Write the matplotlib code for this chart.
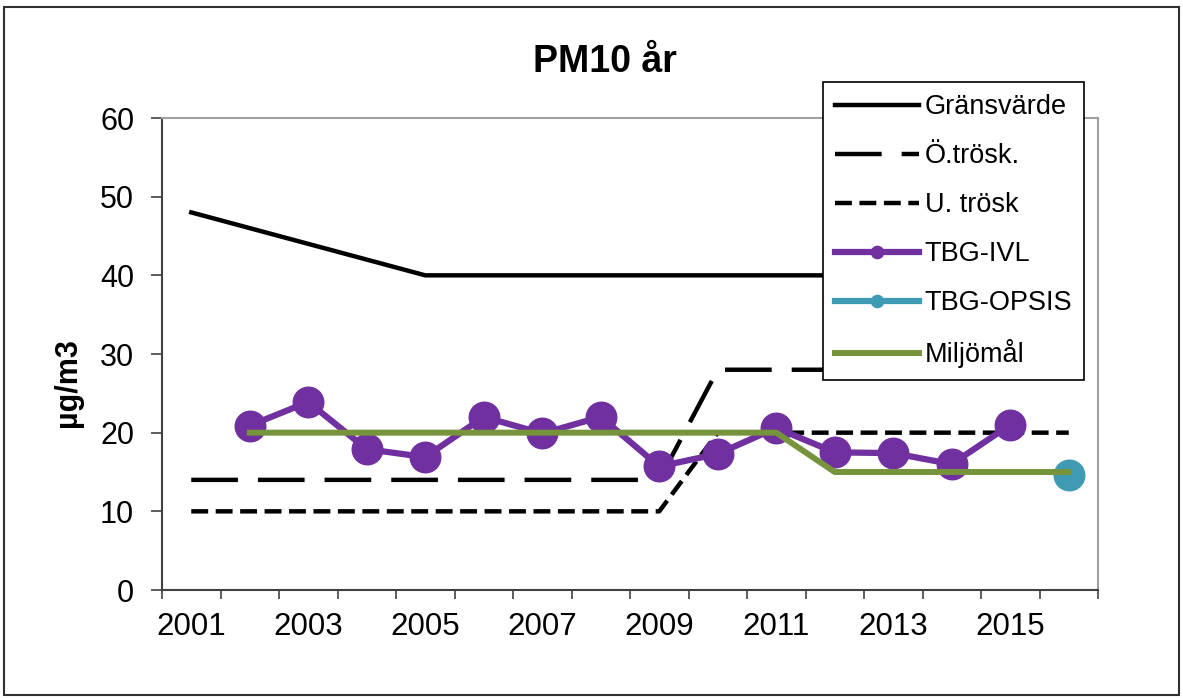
import numpy as np
import matplotlib
matplotlib.use("Agg")
import matplotlib.pyplot as plt
from matplotlib.patches import Rectangle

plt.rcParams['font.family'] = ['Liberation Sans', 'DejaVu Sans']

# data
years = list(range(2001, 2017))
grans = [48, 46, 44, 42, 40, 40, 40, 40, 40, 40, 40, 40, 40, 40, 40, 40]
o_trosk = [14, 14, 14, 14, 14, 14, 14, 14, 14, 28, 28, 28, 28, 28, 28, 28]
u_trosk = [10, 10, 10, 10, 10, 10, 10, 10, 10, 20, 20, 20, 20, 20, 20, 20]
ivl_years = list(range(2002, 2016))
ivl = [20.9, 23.9, 17.9, 16.9, 22.0, 19.9, 22.0, 15.7, 17.3, 20.6, 17.5, 17.4, 16.0, 21.0]
opsis_years = [2016]
opsis = [14.6]
miljo_years = list(range(2002, 2017))
miljo = [20, 20, 20, 20, 20, 20, 20, 20, 20, 20, 15, 15, 15, 15, 15]
tick_labels = [str(y) for y in range(2001, 2016, 2)]

W, H = 1183, 698
fig = plt.figure(figsize=(W / 100, H / 100), dpi=100)
ax = fig.add_axes([162 / W, 1 - 590 / H, (1098 - 162) / W, (590 - 118) / H])

def pos(yrs):
    return np.array(yrs) - 2001

ax.plot(pos(years), grans, color='black', lw=3.2, label='Gränsvärde')
ax.plot(pos(years), o_trosk, color='black', lw=3.2, dashes=(10.5, 4.5), label='Ö.trösk.')
ax.plot(pos(years), u_trosk, color='black', lw=3.2, dashes=(3.8, 1.7), label='U. trösk')
ax.plot(pos(ivl_years), ivl, color='#7030A0', lw=4.5, marker='o', ms=22, label='TBG-IVL')
ax.plot(pos(opsis_years), opsis, color='#3F9BB3', lw=4.5, marker='o', ms=22, label='TBG-OPSIS')
ax.plot(pos(miljo_years), miljo, color='#77933C', lw=4.3, label='Miljömål')

ax.set_xlim(-0.5, 15.5)
ax.set_ylim(0, 60)
ax.set_yticks(range(0, 61, 10))
ax.tick_params(axis='y', direction='out', length=8, width=1.2, pad=12, labelsize=22, color='#404040')
ax.set_xticks(np.arange(-0.5, 16, 1))
ax.set_xticklabels([])
ax.tick_params(axis='x', which='major', direction='out', length=6.5, width=1.2, color='#404040')
ax.set_xticks(pos(range(2001, 2016, 2)), minor=True)
ax.set_xticklabels(tick_labels, minor=True)
ax.tick_params(axis='x', which='minor', length=0, pad=16, labelsize=22.5)

for s in ['left', 'bottom']:
    ax.spines[s].set_color('#404040')
    ax.spines[s].set_linewidth(1.5)
for s in ['top', 'right']:
    ax.spines[s].set_color('#A0A0A0')
    ax.spines[s].set_linewidth(1.5)

leg = ax.legend(loc='upper left', bbox_to_anchor=(823 / W, 1 - 82 / H),
                bbox_transform=fig.transFigure, fontsize=19.5, frameon=True,
                fancybox=False, edgecolor='black', framealpha=1, borderaxespad=0,
                handlelength=3.1, handletextpad=0.2, labelspacing=0.85,
                borderpad=0.45, markerscale=0.4)
leg.get_frame().set_linewidth(1.2)

fig.text(605 / W, 1 - 62 / H, 'PM10 år', ha='center', va='center',
         fontsize=27, fontweight='bold')
fig.text(68 / W, 1 - 383 / H, 'µg/m3', ha='center', va='center',
         rotation=90, fontsize=22, fontweight='bold')

fig.patches.append(Rectangle((4 / W, 1 - 695 / H), 1175 / W, 688 / H,
                             transform=fig.transFigure, fill=False,
                             edgecolor='#303030', lw=1.5))

fig.savefig('out.png', dpi=100)
